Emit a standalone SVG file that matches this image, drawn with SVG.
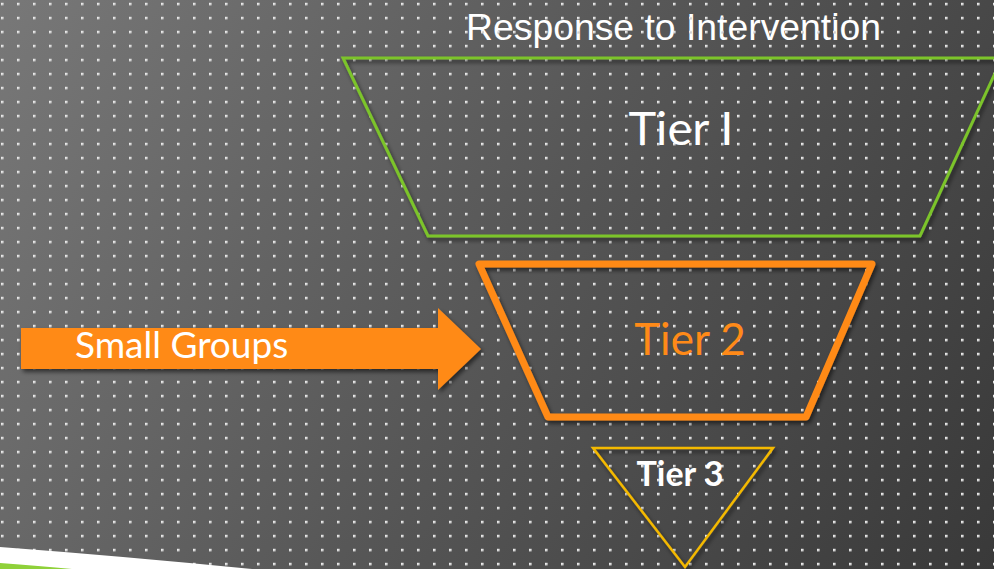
<svg xmlns="http://www.w3.org/2000/svg" width="994" height="569" viewBox="0 0 994 569">
  <defs>
    <linearGradient id="bg" x1="0" y1="0" x2="994" y2="569" gradientUnits="userSpaceOnUse">
      <stop offset="0" stop-color="#787878"/>
      <stop offset="0.5" stop-color="#575757"/>
      <stop offset="1" stop-color="#393939"/>
    </linearGradient>
    <linearGradient id="dotg" x1="0" y1="0" x2="1" y2="1">
      <stop offset="0" stop-color="#ffffff"/>
      <stop offset="1" stop-color="#b0b0b0"/>
    </linearGradient>
    <pattern id="dots" x="0" y="0" width="16" height="14" patternUnits="userSpaceOnUse">
      <rect x="1" y="2.8" width="2.7" height="2.7" fill="url(#dotg)"/>
    </pattern>
    <filter id="shadow" x="-10%" y="-10%" width="130%" height="130%">
      <feDropShadow dx="2" dy="3" stdDeviation="2" flood-color="#000" flood-opacity="0.55"/>
    </filter>
    <style>
      .label { font-family: Lato, "Liberation Sans", sans-serif; }
      .title { font-family: "Liberation Sans", Arial, sans-serif; fill: #ffffff; }
      .tier1 { fill: none; stroke: #7cc42a; stroke-width: 3; stroke-linejoin: miter; }
      .tier2 { fill: none; stroke: #ff8a18; stroke-width: 7; stroke-linejoin: round; }
      .tier3 { fill: none; stroke: #f4b900; stroke-width: 2.5; stroke-linejoin: miter; }
    </style>
  </defs>

  <rect x="0" y="0" width="994" height="569" fill="url(#bg)"/>

  <g id="title">
    <text class="title" x="466" y="40" font-size="36" textLength="415" lengthAdjust="spacingAndGlyphs">Response to Intervention</text>
  </g>

  <rect x="0" y="0" width="994" height="569" fill="url(#dots)"/>

  <g id="tier1">
    <polygon class="tier1" points="343,58 1002,58 920,236 428,236" filter="url(#shadow)"/>
    <text class="label" x="681" y="145" font-size="47" fill="#ffffff" text-anchor="middle">Tier I</text>
  </g>

  <g id="tier2">
    <polygon class="tier2" points="479,264 872,264 806,417 548,417" filter="url(#shadow)"/>
    <text class="label" x="690" y="355" font-size="44" fill="#ff8a18" text-anchor="middle">Tier 2</text>
  </g>

  <g id="tier3">
    <polygon class="tier3" points="593,448 773,448 685,567" filter="url(#shadow)"/>
    <text class="label" x="680" y="486" font-size="34" font-weight="bold" fill="#ffffff" text-anchor="middle">Tier 3</text>
  </g>

  <g id="connectors">
    <polygon points="21,328 438,328 438,308 481,349 438,390 438,369 21,369" fill="#ff8a18" filter="url(#shadow)"/>
    <text class="label" x="75" y="358" font-size="37" fill="#ffffff">Small Groups</text>
  </g>

  <g id="swoosh">
    <path d="M0,547 Q120,556 252,569 L0,569 Z" fill="#ffffff"/>
    <path d="M0,563 Q40,566 72,569 L0,569 Z" fill="#8fd13a"/>
  </g>
</svg>
